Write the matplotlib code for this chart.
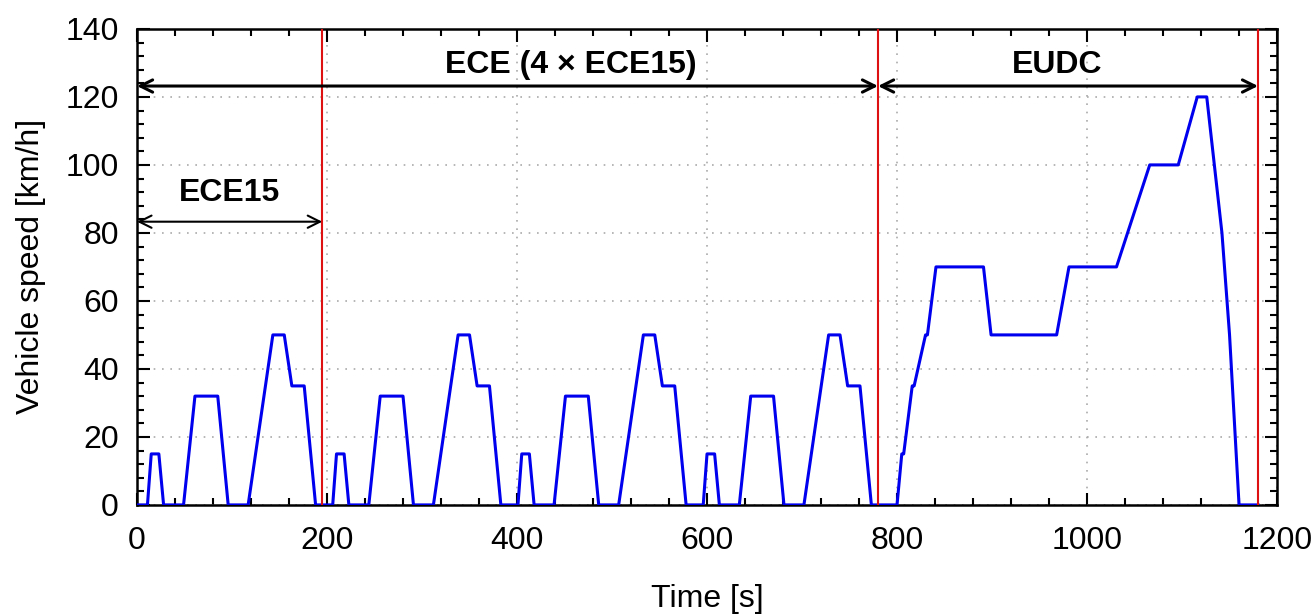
from matplotlib import pyplot as plt
from matplotlib.ticker import MultipleLocator

plt.rcParams['font.family'] = ['Liberation Sans', 'DejaVu Sans']

# one ECE15 urban cycle (195 s), breakpoints
ece_t = [0, 11, 15, 23, 28, 49, 61, 85, 96, 117, 143, 155, 163, 176, 188, 195]
ece_v = [0, 0, 15, 15, 0, 0, 32, 32, 0, 0, 50, 50, 35, 35, 0, 0]
ece_repeats = 4
ece_len = 195

# extra-urban part, absolute time
eudc_t = [780, 800, 805, 807, 816, 818, 830, 832, 841, 891, 899, 968, 981, 1031,
          1066, 1096, 1116, 1126, 1142, 1150, 1160, 1180]
eudc_v = [0, 0, 15, 15, 35, 35, 50, 50, 70, 70, 50, 50, 70, 70,
          100, 100, 120, 120, 80, 50, 0, 0]

borders = [195, 780, 1180]

t = []
v = []
for k in range(ece_repeats):
    t += [x + k * ece_len for x in ece_t]
    v += ece_v
t += eudc_t
v += eudc_v

fig, ax = plt.subplots(figsize=(13.16, 6.15), dpi=100)
fig.subplots_adjust(left=0.1041, right=0.9704, top=0.953, bottom=0.179)

ax.grid(True, which='major', linestyle=(0, (1, 4)), color='#aaaaaa', lw=1.2)
ax.plot(t, v, color='#0000ee', lw=2.2, zorder=3)
for b in borders:
    ax.axvline(b, color='#dd1111', lw=1.5, zorder=4)

arrow = dict(arrowstyle='<->', color='black', lw=2.2, mutation_scale=22,
             shrinkA=0, shrinkB=0)
ax.annotate('', xy=(0, 123.2), xytext=(780, 123.2), arrowprops=arrow, zorder=5)
ax.annotate('', xy=(780, 123.2), xytext=(1180, 123.2), arrowprops=arrow, zorder=5)
arrow2 = dict(arrow, lw=1.5)
ax.annotate('', xy=(0, 83.3), xytext=(195, 83.3), arrowprops=arrow2, zorder=5)

ax.text(457, 129.3, 'ECE (4 × ECE15)', ha='center', va='center', fontsize=23, fontweight='bold')
ax.text(969, 129.3, 'EUDC', ha='center', va='center', fontsize=23, fontweight='bold')
ax.text(97, 91.8, 'ECE15', ha='center', va='center', fontsize=23, fontweight='bold')

ax.set_xlim(0, 1200)
ax.set_ylim(0, 140)
ax.xaxis.set_major_locator(MultipleLocator(200))
ax.xaxis.set_minor_locator(MultipleLocator(40))
ax.yaxis.set_major_locator(MultipleLocator(20))
ax.yaxis.set_minor_locator(MultipleLocator(4))
ax.tick_params(which='both', direction='in', top=True, right=True, labelsize=23, width=1.5)
ax.tick_params(which='major', length=9)
ax.tick_params(which='minor', length=5)
ax.tick_params(axis='x', which='major', pad=15)
ax.tick_params(axis='y', which='major', pad=13)
for s in ax.spines.values():
    s.set_linewidth(1.8)

ax.set_xlabel('Time [s]', fontsize=23, labelpad=20)
ax.set_ylabel('Vehicle speed [km/h]', fontsize=23, labelpad=14)

plt.savefig('out.png')
